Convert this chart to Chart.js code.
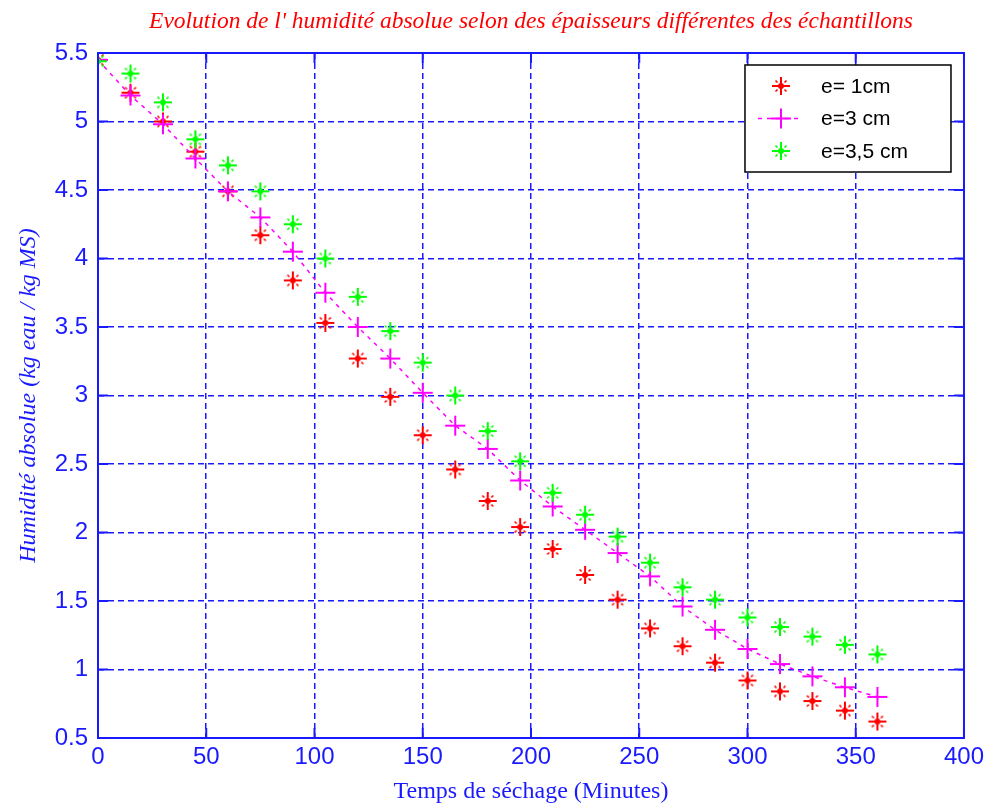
<!DOCTYPE html>
<html>
<head>
<meta charset="utf-8">
<script src="https://cdn.jsdelivr.net/npm/chart.js@4/dist/chart.umd.min.js"></script>
<style>
  html, body { margin: 0; padding: 0; background: #fff; }
</style>
</head>
<body>
<canvas id="sechage" width="989" height="806"></canvas>
<script>
const minutes = [0, 15, 30, 45, 60, 75, 90, 105, 120, 135, 150, 165, 180, 195, 210, 225, 240, 255, 270, 285, 300, 315, 330, 345, 360];

const e1cm = [5.45, 5.21, 5.00, 4.78, 4.49, 4.17, 3.84, 3.53, 3.27, 2.99, 2.71, 2.46, 2.23, 2.04, 1.88, 1.69, 1.51, 1.30, 1.17, 1.05, 0.92, 0.84, 0.77, 0.70, 0.62];
const e3cm = [5.45, 5.19, 4.98, 4.73, 4.49, 4.30, 4.05, 3.75, 3.50, 3.27, 3.02, 2.78, 2.61, 2.38, 2.19, 2.02, 1.85, 1.68, 1.46, 1.29, 1.15, 1.04, 0.95, 0.87, 0.80];
const e35cm = [5.44, 5.35, 5.14, 4.87, 4.68, 4.49, 4.25, 4.00, 3.72, 3.47, 3.24, 3.00, 2.74, 2.52, 2.29, 2.13, 1.97, 1.78, 1.60, 1.51, 1.38, 1.31, 1.24, 1.18, 1.11];

const xTicks = [0, 50, 100, 150, 200, 250, 300, 350, 400];
const yTicks = [0.5, 1, 1.5, 2, 2.5, 3, 3.5, 4, 4.5, 5, 5.5];

const BLUE = "#1a1aff";

// matlab style markers drawn once, chart.js places them
function asterisk(color) {
  const c = document.createElement("canvas");
  c.width = 22; c.height = 22;
  const g = c.getContext("2d");
  g.strokeStyle = color; g.fillStyle = color;
  g.lineWidth = 2;
  g.beginPath();
  g.moveTo(2, 11); g.lineTo(20, 11);
  g.moveTo(11, 2); g.lineTo(11, 20);
  g.stroke();
  g.lineWidth = 1.6;
  g.beginPath();
  g.moveTo(5.5, 5.5); g.lineTo(7.5, 7.5);
  g.moveTo(16.5, 5.5); g.lineTo(14.5, 7.5);
  g.moveTo(5.5, 16.5); g.lineTo(7.5, 14.5);
  g.moveTo(16.5, 16.5); g.lineTo(14.5, 14.5);
  g.stroke();
  g.beginPath(); g.arc(11, 11, 3, 0, Math.PI * 2); g.fill();
  return c;
}

function plus(color) {
  const c = document.createElement("canvas");
  c.width = 22; c.height = 22;
  const g = c.getContext("2d");
  g.strokeStyle = color; g.lineWidth = 2;
  g.beginPath();
  g.moveTo(1, 11); g.lineTo(21, 11);
  g.moveTo(11, 1); g.lineTo(11, 21);
  g.stroke();
  return c;
}

const pts = (ys) => minutes.map((m, i) => ({ x: m, y: ys[i] }));

// box around the axes with inward ticks, like matlab "box on"
const boxPlugin = {
  id: "matlabBox",
  afterDatasetsDraw(chart) {
    const { ctx, chartArea: a, scales } = chart;
    ctx.save();
    ctx.strokeStyle = BLUE;
    ctx.lineWidth = 2;
    ctx.setLineDash([]);
    ctx.strokeRect(a.left, a.top, a.right - a.left, a.bottom - a.top);
    ctx.beginPath();
    xTicks.forEach(v => {
      const px = scales.x.getPixelForValue(v);
      ctx.moveTo(px, a.bottom); ctx.lineTo(px, a.bottom - 10);
      ctx.moveTo(px, a.top); ctx.lineTo(px, a.top + 10);
    });
    yTicks.forEach(v => {
      const py = scales.y.getPixelForValue(v);
      ctx.moveTo(a.left, py); ctx.lineTo(a.left + 10, py);
      ctx.moveTo(a.right, py); ctx.lineTo(a.right - 10, py);
    });
    ctx.stroke();
    ctx.restore();
  }
};

const legendPlugin = {
  id: "boxLegend",
  afterDraw(chart) {
    const { ctx, chartArea: a } = chart;
    const w = 206, h = 107;
    const x0 = a.right - 13 - w, y0 = a.top + 12;
    ctx.save();
    ctx.fillStyle = "#fff";
    ctx.fillRect(x0, y0, w, h);
    ctx.strokeStyle = "#000";
    ctx.lineWidth = 1.5;
    ctx.strokeRect(x0, y0, w, h);
    ctx.font = "21px 'Liberation Sans', Arial, sans-serif";
    ctx.textBaseline = "middle";
    chart.data.datasets.forEach((ds, i) => {
      const y = y0 + 21 + i * 32.5;
      const mx = x0 + 36;
      if (ds.showLine) {
        ctx.strokeStyle = ds.borderColor;
        ctx.lineWidth = 1.5;
        ctx.setLineDash(ds.borderDash);
        ctx.beginPath(); ctx.moveTo(x0 + 13, y); ctx.lineTo(x0 + 57, y); ctx.stroke();
        ctx.setLineDash([]);
      }
      const img = ds.pointStyle;
      ctx.drawImage(img, mx - img.width / 2, y - img.height / 2);
      ctx.fillStyle = "#000";
      ctx.fillText(ds.label, x0 + 76, y + 1);
    });
    ctx.restore();
  }
};

new Chart(document.getElementById("sechage").getContext("2d"), {
  type: "scatter",
  data: {
    datasets: [
      {
        label: "e= 1cm",
        data: pts(e1cm),
        pointStyle: asterisk("#ff0000"),
        showLine: false,
        order: 3
      },
      {
        label: "e=3 cm",
        data: pts(e3cm),
        pointStyle: plus("#ff00ff"),
        showLine: true,
        borderColor: "#ff00ff",
        borderWidth: 1.5,
        borderDash: [4, 5],
        tension: 0,
        order: 2
      },
      {
        label: "e=3,5 cm",
        data: pts(e35cm),
        pointStyle: asterisk("#00ff00"),
        showLine: false,
        order: 1
      }
    ]
  },
  options: {
    responsive: false,
    animation: false,
    devicePixelRatio: 1,
    layout: { padding: { left: 0, right: 22, top: 0, bottom: 0 } },
    plugins: {
      legend: { display: false },
      tooltip: { enabled: false },
      title: {
        display: true,
        fullSize: false,
        text: "Evolution de l' humidité absolue selon des épaisseurs différentes des échantillons",
        color: "#ff0000",
        font: { family: "'Liberation Serif', 'Times New Roman', serif", size: 23.5, style: "italic", weight: "normal" },
        padding: { top: 8, bottom: 16.8 }
      }
    },
    scales: {
      x: {
        type: "linear",
        min: 0,
        max: 400,
        afterBuildTicks: s => { s.ticks = xTicks.map(v => ({ value: v })); },
        afterFit: s => { s.height = 68; },
        ticks: {
          color: BLUE,
          padding: 5,
          maxRotation: 0,
          font: { family: "'Liberation Sans', Arial, sans-serif", size: 24 },
          callback: v => String(v)
        },
        grid: { color: BLUE, lineWidth: 1.5, drawTicks: false },
        border: { display: false, dash: [6, 4] },
        title: {
          display: true,
          text: "Temps de séchage (Minutes)",
          color: BLUE,
          font: { family: "'Liberation Serif', 'Times New Roman', serif", size: 24 },
          padding: { top: 0, bottom: 0 }
        }
      },
      y: {
        type: "linear",
        min: 0.5,
        max: 5.5,
        afterBuildTicks: s => { s.ticks = yTicks.map(v => ({ value: v })); },
        afterFit: s => { s.width = 98; },
        ticks: {
          color: BLUE,
          padding: 10,
          font: { family: "'Liberation Sans', Arial, sans-serif", size: 24 },
          callback: v => String(v)
        },
        grid: { color: BLUE, lineWidth: 1.5, drawTicks: false },
        border: { display: false, dash: [6, 4] },
        title: {
          display: true,
          text: "Humidité absolue (kg eau / kg MS)",
          color: BLUE,
          font: { family: "'Liberation Serif', 'Times New Roman', serif", size: 24, style: "italic" },
          padding: 14
        }
      }
    }
  },
  plugins: [boxPlugin, legendPlugin]
});
</script>
</body>
</html>
